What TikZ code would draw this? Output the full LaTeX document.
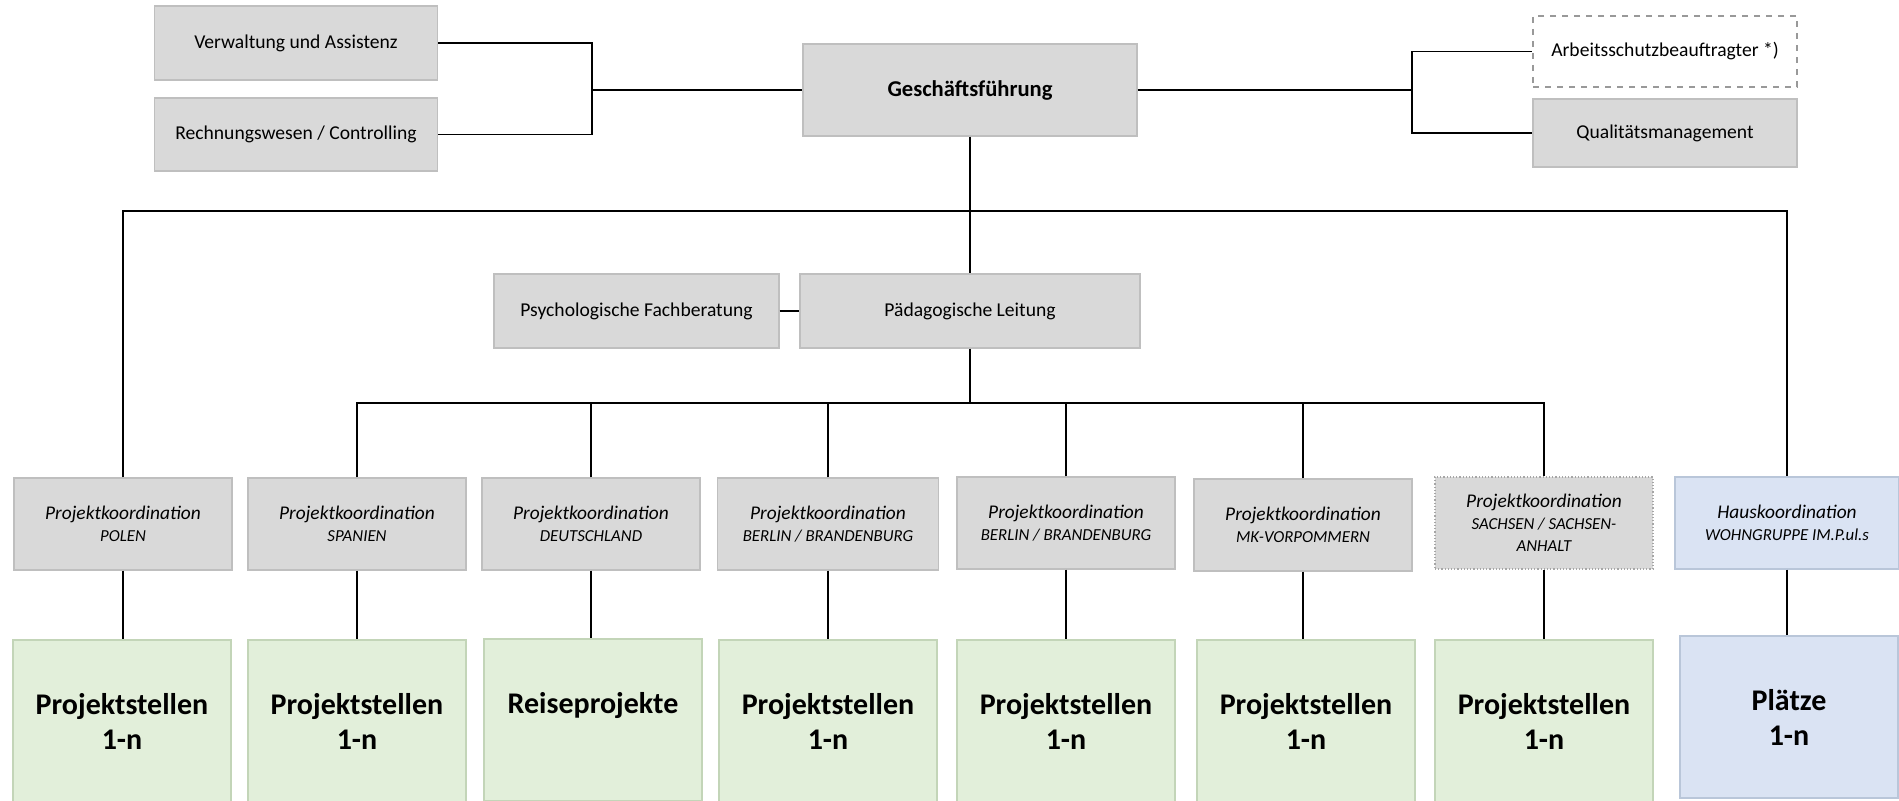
\documentclass[tikz,border=0pt]{standalone}
\usepackage{fontspec}
\setmainfont{Carlito}
\usepackage{tikz}

\definecolor{boxgray}{HTML}{D9D9D9}
\definecolor{linegray}{HTML}{BFBFBF}
\definecolor{boxgreen}{HTML}{E2EFDA}
\definecolor{linegreen}{HTML}{C3D5B8}
\definecolor{boxblue}{HTML}{DAE3F3}
\definecolor{lineblue}{HTML}{B9C6D9}

\newcommand{\regionfont}{\fontsize{8.4}{11}\selectfont\itshape}

\begin{document}
\begin{tikzpicture}
	[
	x=0.5pt, y=-0.5pt,
	align=center,
	staff/.style={draw=linegray, fill=boxgray, line width=0.6pt, inner sep=0pt,
		font=\fontsize{9.8}{11.8}\selectfont},
	coordbox/.style={staff, minimum width=109pt, minimum height=46pt,
		font=\fontsize{9.7}{11}\selectfont\itshape},
	unitbox/.style={draw=linegreen, fill=boxgreen, line width=0.6pt, inner sep=0pt,
		minimum width=109pt, minimum height=81pt,
		font=\fontsize{15}{17.5}\selectfont\bfseries},
	link/.style={line width=0.7pt},
	]
		\useasboundingbox (0,0) rectangle (1899,801);
		
		% management
		\node[staff, minimum width=167pt, minimum height=46pt, font=\fontsize{11.3}{13}\selectfont\bfseries]
			(gf) at (970, 90) {Geschäftsführung};
		
		% staff positions
		\node[staff, minimum width=141.5pt, minimum height=37pt] (verw) at (296, 43) {Verwaltung und Assistenz};
		\node[staff, minimum width=141.5pt, minimum height=36.5pt] (rech) at (296, 134.5) {Rechnungswesen / Controlling};
		\node[staff, fill=white, dashed, draw=gray!80, minimum width=132pt, minimum height=35.5pt] (arb) at (1665, 51.5) {Arbeitsschutzbeauftragter *)};
		\node[staff, minimum width=132pt, minimum height=34pt] (qual) at (1665, 133) {Qualitätsmanagement};
		
		\coordinate (lb) at (592, 90);
		\coordinate (rb) at (1412, 90);
		
		% pedagogy
		\node[staff, minimum width=170pt, minimum height=37pt] (paed) at (970, 311) {Pädagogische Leitung};
		\node[staff, minimum width=142.5pt, minimum height=37pt] (psych) at (636.5, 311) {Psychologische Fachberatung};
		
		% coordination
		\node[coordbox] (kpol) at ( 123, 524) {Projektkoordination\\{\regionfont POLEN}};
		\node[coordbox] (kspa) at ( 357, 524) {Projektkoordination\\{\regionfont SPANIEN}};
		\node[coordbox] (kdeu) at ( 591, 524) {Projektkoordination\\{\regionfont DEUTSCHLAND}};
		\node[coordbox, minimum width=110.5pt] (kbb) at ( 828, 524) {Projektkoordination\\{\regionfont BERLIN / BRANDENBURG}};
		\node[coordbox] (kbbz) at (1066, 523) {Projektkoordination\\{\regionfont BERLIN / BRANDENBURG}};
		\node[coordbox] (kmv) at (1303, 525) {Projektkoordination\\{\regionfont MK-VORPOMMERN}};
		\node[coordbox, densely dotted, draw=gray!70] (ksac) at (1544, 523) {Projektkoordination\\{\regionfont SACHSEN / SACHSEN-}\\{\regionfont ANHALT}};
		\node[coordbox, fill=boxblue, draw=lineblue, minimum width=112pt] (khaus) at (1787, 523) {Hauskoordination\\{\regionfont WOHNGRUPPE IM.P.ul.s}};
		
		\coordinate (busl) at ( 123, 211);
		\coordinate (busr) at (1787, 211);
		\coordinate (pb) at (970, 403);
		
		% places
		\node[unitbox] (upol) at ( 122, 721) {Projektstellen\\1-n};
		\node[unitbox] (uspa) at ( 357, 721) {Projektstellen\\1-n};
		\node[unitbox] (udeu) at ( 593, 720) {Reiseprojekte\\\phantom{1-n}};
		\node[unitbox] (ubb) at ( 828, 721) {Projektstellen\\1-n};
		\node[unitbox] (ubbz) at (1066, 721) {Projektstellen\\1-n};
		\node[unitbox] (umv) at (1306, 721) {Projektstellen\\1-n};
		\node[unitbox] (usac) at (1544, 721) {Projektstellen\\1-n};
		\node[unitbox, fill=boxblue, draw=lineblue] (uhaus) at (1789, 717) {Plätze\\1-n};
		
		% connections
		\draw[link] (verw.east) -| (lb);
		\draw[link] (rech.east) -| (lb);
		\draw[link] (lb) -- (gf.west);
		\draw[link] (gf.east) -- (rb);
		\draw[link] (rb) |- (arb.west);
		\draw[link] (rb) |- (qual.west);
		\draw[link] (gf.south) -- (paed.north);
		\draw[link] (psych.east) -- (paed.west);
		\draw[link] (kpol.north) -- (busl) -- (busr) -- (khaus.north);
		\draw[link] (paed.south) -- (pb);
		\foreach \k in {kspa,kdeu,kbb,kbbz,kmv,ksac} \draw[link] (\k.north) |- (pb);
		\foreach \from/\to in {kpol/upol,kspa/uspa,kdeu/udeu,kbb/ubb,kbbz/ubbz,kmv/umv,ksac/usac,khaus/uhaus}
			\draw[link] (\from.south) -- (\from.south |- \to.north);
		
	\end{tikzpicture}
\end{document}
